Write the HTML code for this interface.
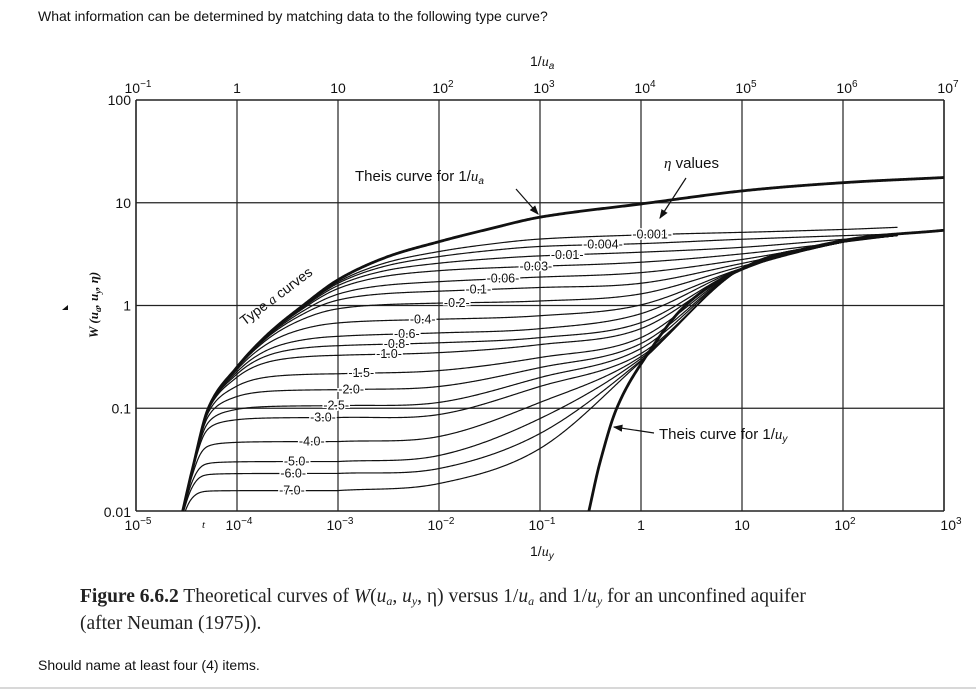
<!DOCTYPE html>
<html><head><meta charset="utf-8">
<style>
html,body{margin:0;padding:0;background:#fff;width:976px;height:691px;overflow:hidden;}
body{position:relative;font-family:"Liberation Sans",Arial,sans-serif;}
.q{position:absolute;left:38px;top:8px;font-size:14px;color:#111;}
.s{position:absolute;left:38px;top:657px;font-size:14px;line-height:16px;color:#111;}
.cap{position:absolute;left:80px;top:583px;width:880px;font-family:"Liberation Serif",serif;font-size:19.5px;line-height:27px;color:#222;}
.cap sub{font-size:12px;line-height:0;vertical-align:-3px;}
.hr{position:absolute;left:0;top:687px;width:976px;height:2px;background:#d8d8d8;}
svg{position:absolute;left:0;top:0;display:block;}
</style></head><body>
<div class="q">What information can be determined by matching data to the following type curve?</div>
<svg id="chart" width="976" height="580"></svg>
<div class="cap"><b>Figure 6.6.2</b> Theoretical curves of <i>W</i>(<i>u<sub>a</sub></i>, <i>u<sub>y</sub></i>, η) versus 1/<i>u<sub>a</sub></i> and 1/<i>u<sub>y</sub></i> for an unconfined aquifer<br>(after Neuman (1975)).</div>
<div class="s">Should name at least four (4) items.</div>
<div class="hr"></div>
<script>
// ---- data ----
const topTickExp = ["−1","","","2","3","4","5","6","7"];
const topTickBase = ["10","1","10","10","10","10","10","10","10"];
const bottomTickExp = ["−5","−4","−3","−2","−1","","","2","3"];
const bottomTickBase = ["10","10","10","10","10","1","10","10","10"];
const yTicks = ["100","10","1","0.1","0.01"];
const yTickValues = [100,10,1,0.1,0.01];
// Theis curve for 1/ua
const theisAInvU = [0.29,0.36,0.52,0.98,2,4.5,10.2,30,102,300,1050,10500,105000,1020000,10000000];
const theisAW = [0.01,0.025,0.1,0.245,0.52,1.0,1.8,2.95,4.2,5.5,7.3,9.8,13.1,15.7,17.6];
// Theis curve for 1/uy
const theisYInvU = [0.305,0.39,0.575,1.05,2.75,10.5,102,1000];
const theisYW = [0.01,0.029,0.1,0.29,1.0,2.3,4.3,5.4];
// eta curves: W at 1/uy = 1e-3,1e-2,1e-1,1,10,100,346
const etaLabels = ["0.001","0.004","0.01","0.03","0.06","0.1","0.2","0.4","0.6","0.8","1.0","1.5","2.0","2.5","3.0","4.0","5.0","6.0","7.0"];
const lateInvU = [0.001,0.01,0.1,1,10,100,346];
const etaW = [
 [5.61,5.61,5.61,5.61,5.61,5.87,6.14],
 [4.29,4.29,4.39,4.39,4.69,5.02,5.2],
 [3.28,3.28,3.35,3.51,3.84,4.59,5.02],
 [2.56,2.56,2.56,2.74,3.28,4.29,5.02],
 [1.87,1.87,1.96,2.14,2.87,4.29,5.02],
 [1.46,1.46,1.53,1.67,2.62,4.29,5.02],
 [1.09,1.09,1.12,1.31,2.45,4.29,5.02],
 [0.731,0.747,0.80,1.02,2.34,4.29,5.02],
 [0.522,0.546,0.597,0.836,2.34,4.29,5.02],
 [0.417,0.436,0.488,0.683,2.34,4.29,5.02],
 [0.333,0.349,0.417,0.597,2.34,4.29,5.02],
 [0.218,0.233,0.312,0.488,2.34,4.29,5.02],
 [0.152,0.163,0.249,0.427,2.34,4.29,5.02],
 [0.106,0.114,0.199,0.382,2.34,4.29,5.02],
 [0.0813,0.0869,0.163,0.341,2.34,4.29,5.02],
 [0.0474,0.0531,0.114,0.319,2.34,4.29,5.02],
 [0.0303,0.0347,0.0794,0.305,2.34,4.29,5.02],
 [0.0232,0.0259,0.0568,0.292,2.34,4.29,5.02],
 [0.0158,0.0185,0.0406,0.285,2.34,4.29,5.02]
];
// label positions along 1/ua (top axis) for each eta label
const etaLabelAt = [12900,4200,1860,910,430,245,150,69,48,38,32,17,13.5,9.6,7.1,5.5,3.9,3.6,3.5];

// ---- axes ----
const L=136, R=944, T=100, B=511, DX=101, DY=102.75;
const xA = v => L + (Math.log10(v)+1)*DX;
const xB = v => L + (Math.log10(v)+5)*DX;
const yW = v => T + (2-Math.log10(v))*DY;
const NS="http://www.w3.org/2000/svg";
const svg=document.getElementById('chart');
function mk(tag,attrs,parent){const e=document.createElementNS(NS,tag);for(const k in attrs)e.setAttribute(k,attrs[k]);(parent||svg).appendChild(e);return e;}

function interp(xs,ys,x){
  const lx=xs.map(Math.log10), ly=ys.map(Math.log10), t=Math.log10(x), n=lx.length;
  if(t<=lx[0]){const s=(ly[1]-ly[0])/(lx[1]-lx[0]);return Math.pow(10,ly[0]+s*(t-lx[0]));}
  if(t>=lx[n-1]){const s=(ly[n-1]-ly[n-2])/(lx[n-1]-lx[n-2]);return Math.pow(10,ly[n-1]+s*(t-lx[n-1]));}
  let i=0;while(t>lx[i+1])i++;
  const x0=lx[i],x1=lx[i+1],y0=ly[i],y1=ly[i+1];
  const h=x1-x0,u=(t-x0)/h;
  const m0 = i>0 ? (y1-ly[i-1])/(x1-lx[i-1]) : (y1-y0)/h;
  const m1 = i<n-2 ? (ly[i+2]-y0)/(lx[i+2]-x0) : (y1-y0)/h;
  const h00=2*u*u*u-3*u*u+1,h10=u*u*u-2*u*u+u,h01=-2*u*u*u+3*u*u,h11=u*u*u-u*u;
  return Math.pow(10,h00*y0+h10*h*m0+h01*y1+h11*h*m1);
}
function etaAt(k,ua){
  const uy=ua*1e-4;
  const A=interp(theisAInvU,theisAW,ua);
  const Lw = uy<lateInvU[0] ? etaW[k][0] : interp(lateInvU,etaW[k],uy);
  const n=2.0;
  return Math.pow(Math.pow(A,-n)+Math.pow(Lw,-n),-1/n);
}

const g=mk('g',{});
mk('clipPath',{id:'clip'},svg);
mk('rect',{x:L,y:T,width:R-L,height:B-T},svg.lastChild);

for(let i=0;i<9;i++){
  const x=L+i*(R-L)/8;
  const ln=mk('line',{x1:x,y1:T,x2:x,y2:B,stroke:'#222','stroke-width':(i==0||i==8)?1.6:1.2},g);
  
  
}
yTickValues.forEach(v=>{
  const y=yW(v);
  const ln=mk('line',{x1:L,y1:y,x2:R,y2:y,stroke:'#222','stroke-width':(v==100||v==0.01)?1.6:1.2},g);
  
  
});

const tl=mk('g',{'font-family':'Liberation Sans, Arial, sans-serif','font-size':'14','fill':'#111','text-anchor':'middle'});
function tick(base,exp,x,y){
  const t=mk('text',{x:x,y:y},tl);
  t.innerHTML=base+(exp?'<tspan font-size="10" dy="-6">'+exp+'</tspan>':'');
  return t;
}
topTickBase.forEach((b,i)=>{
  const t=tick(b,topTickExp[i],L+i*(R-L)/8+(i==0?2:(topTickExp[i]?4:0)),93);
  
  
});
bottomTickBase.forEach((b,i)=>{
  const t=tick(b,bottomTickExp[i],L+i*(R-L)/8+(bottomTickExp[i]?2:0)+(i==8?5:0),530);
  
  
});
yTicks.forEach((s,i)=>{
  const t=mk('text',{x:131,y:yW(yTickValues[i])+(i==0?5:(i==4?6:5)),'text-anchor':'end'},tl);t.textContent=s;
  
  
});

const cg=mk('g',{'clip-path':'url(#clip)',fill:'none',stroke:'#111'});
etaW.forEach((arr,k)=>{
  let d='';
  for(let s=-5.6;s<=2.54;s+=0.01){
    const uy=Math.pow(10,s);
    const W=etaAt(k,uy*1e4);
    d+=(d?'L':'M')+xB(uy).toFixed(2)+','+yW(W).toFixed(2);
  }
  const p=mk('path',{d:d,'stroke-width':1.2},cg);
  
  
});
function theisPath(xs,ys,xf,from,to){
  let d='';
  for(let s=from;s<=to;s+=0.01){const v=Math.pow(10,s);d+=(d?'L':'M')+xf(v).toFixed(2)+','+yW(interp(xs,ys,v)).toFixed(2);}
  return d;
}
const ta=mk('path',{d:theisPath(theisAInvU,theisAW,xA,-0.6,7.0),'stroke-width':2.8},cg);


const ty=mk('path',{d:theisPath(theisYInvU,theisYW,xB,-0.55,3.0),'stroke-width':2.8},cg);



const lg=mk('g',{'font-family':'Liberation Sans, Arial, sans-serif','font-size':'12.5','fill':'#111','text-anchor':'middle'});
etaLabels.forEach((s,k)=>{
  const ua=etaLabelAt[k];
  const t=mk('text',{x:xA(ua),y:yW(etaAt(k,ua))+4,stroke:'#fff','stroke-width':3,'paint-order':'stroke'},lg);
  t.textContent='-'+s+'-';
  
  
});

const ag=mk('g',{'font-family':'Liberation Sans, Arial, sans-serif','font-size':'15','fill':'#111'});
let t;
t=mk('text',{x:355,y:181},ag);t.innerHTML='Theis curve for 1/<tspan font-style="italic" font-family="Liberation Serif, serif">u</tspan><tspan font-size="10" dy="3" font-style="italic">a</tspan>';

t=mk('text',{x:664,y:168},ag);t.innerHTML='<tspan font-style="italic" font-family="Liberation Serif, serif">η</tspan> values';

t=mk('text',{x:659,y:439},ag);t.innerHTML='Theis curve for 1/<tspan font-style="italic" font-family="Liberation Serif, serif">u</tspan><tspan font-size="10" dy="3" font-style="italic">y</tspan>';

t=mk('text',{x:0,y:0,transform:'translate(279,300) rotate(-37)','text-anchor':'middle','font-size':'14'},ag);t.innerHTML='Type <tspan font-style="italic" font-family="Liberation Serif, serif">a</tspan> curves';

t=mk('text',{x:530,y:66,'font-size':'14'},ag);t.innerHTML='1/<tspan font-style="italic" font-family="Liberation Serif, serif">u</tspan><tspan font-size="10" dy="3" font-style="italic">a</tspan>';

t=mk('text',{x:530,y:556,'font-size':'14'},ag);t.innerHTML='1/<tspan font-style="italic" font-family="Liberation Serif, serif">u</tspan><tspan font-size="10" dy="3" font-style="italic">y</tspan>';

t=mk('text',{x:202,y:528,'font-size':'11','font-style':'italic','font-family':'Liberation Serif, serif'},ag);t.textContent='t';

t=mk('text',{x:0,y:0,transform:'translate(98,305) rotate(-90)','text-anchor':'middle','font-size':'13','font-family':'Liberation Serif, serif','font-style':'italic','font-weight':'bold'},ag);
t.innerHTML='W (u<tspan font-size="9" dy="3">a</tspan><tspan dy="-3">, u</tspan><tspan font-size="9" dy="3">y</tspan><tspan dy="-3">, η)</tspan>';

mk('polygon',{points:'62,310 68,305 68,310',fill:'#111'},ag);

mk('defs',{},svg).innerHTML='<marker id="ah" markerWidth="8" markerHeight="8" refX="7" refY="4" orient="auto"><path d="M0,1 L8,4 L0,7 z" fill="#111"/></marker>';
[[516,189,538,214],[686,178,660,218],[654,433,614,427]].forEach(a=>{
  const l=mk('line',{x1:a[0],y1:a[1],x2:a[2],y2:a[3],stroke:'#111','stroke-width':1.2,'marker-end':'url(#ah)'});
  
  
});
</script>
</body></html>
